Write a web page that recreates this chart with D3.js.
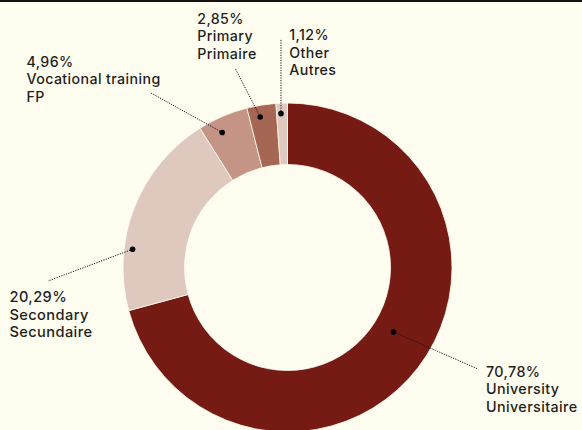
<!DOCTYPE html>
<html>
<head>
<meta charset="utf-8">
<script src="https://cdn.jsdelivr.net/npm/d3@7"></script>
<style>
  html, body { margin: 0; padding: 0; background: #fffdef; }
  svg { display: block; }
  text { font-family: Inter, "Noto Sans", sans-serif; fill: #1e1e1e; font-weight: 500; letter-spacing: 0.4px; }
</style>
</head>
<body>
<script>
// ---- data ----
const categories = ["University", "Secondary", "Vocational training", "Primary", "Other"];
const frenchLabels = ["Universitaire", "Secundaire", "FP", "Primaire", "Autres"];
const values = [70.78, 20.29, 4.96, 2.85, 1.12];
const valueLabels = ["70,78%", "20,29%", "4,96%", "2,85%", "1,12%"];

// ---- style / layout ----
const colors = ["#761a14", "#dfc8bd", "#c49584", "#a66654", "#dfc8bd"];
// dot placement inside each slice: fraction of slice angle, radius
const dotPlace = [
  {f: 0.476, r: 124}, {f: 0.30, r: 156}, {f: 0.355, r: 150}, {f: 0.39, r: 153}, {f: 0.40, r: 154}
];
// label blocks: left x, first baseline, font size, leader end point
const labelLayout = [
  {x: 486, y: 376.7, size: 14.3, lx: 478, ly: 369},
  {x: 9.5, y: 302, size: 14.6, lx: 48, ly: 281},
  {x: 26.5, y: 66.5, size: 14.2, lx: 150, ly: 92.5},
  {x: 197.3, y: 23.5, size: 14.2, lx: 235, ly: 68},
  {x: 289.3, y: 40, size: 14.2, lx: 281, ly: 39.5}
];

const W = 582, H = 430;
const cx = 287.5, cy = 267.5, rOuter = 164.5, rInner = 103;

const svg = d3.select("body").append("svg").attr("width", W).attr("height", H);
svg.append("rect").attr("width", W).attr("height", H).attr("fill", "#fffdef");
svg.append("rect").attr("x", 0).attr("y", 0).attr("width", W).attr("height", 2).attr("fill", "#111");

const data = categories.map((c, i) => ({name: c, fr: frenchLabels[i], value: values[i], label: valueLabels[i], i}));

const pie = d3.pie().value(d => d.value).sort(null);
const arcs = pie(data);
const arc = d3.arc().innerRadius(rInner).outerRadius(rOuter);

const g = svg.append("g").attr("transform", `translate(${cx},${cy})`);
g.selectAll("path.slice").data(arcs).join("path")
  .attr("class", "slice")
  .attr("d", arc)
  .attr("fill", d => colors[d.data.i])
  .attr("stroke", "#fffdef")
  .attr("stroke-width", 0.8);

// leader lines and dots
arcs.forEach(a => {
  const p = dotPlace[a.data.i];
  const ang = a.startAngle + (a.endAngle - a.startAngle) * p.f;
  const [dx, dy] = d3.pointRadial(ang, p.r);
  const L = labelLayout[a.data.i];
  svg.append("line")
    .attr("x1", cx + dx).attr("y1", cy + dy)
    .attr("x2", L.lx).attr("y2", L.ly)
    .attr("stroke", "#111").attr("stroke-width", 1)
    .attr("stroke-dasharray", "1.2,1.3");
  svg.append("circle")
    .attr("cx", cx + dx).attr("cy", cy + dy).attr("r", 2.8)
    .attr("fill", "#000");
});

// labels
data.forEach(d => {
  const L = labelLayout[d.i];
  const t = svg.append("text").attr("x", L.x).attr("y", L.y).style("font-size", L.size + "px");
  [d.label, d.name, d.fr].forEach((s, k) => {
    t.append("tspan").attr("x", L.x).attr("y", L.y + k * 17.5).text(s);
  });
});
</script>
</body>
</html>
